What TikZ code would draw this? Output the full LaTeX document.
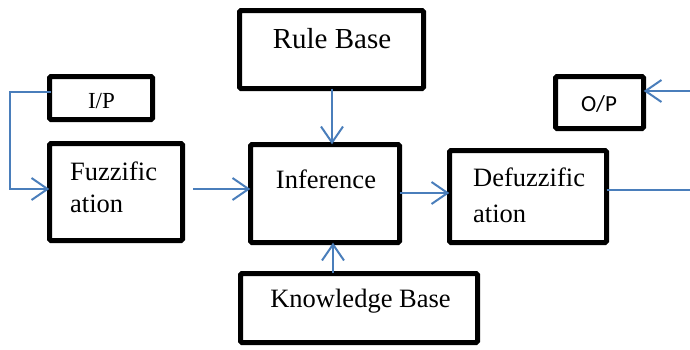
\documentclass[tikz,border=0pt]{standalone}
\usepackage{fontspec}
\setmainfont{Liberation Serif}
\newfontfamily\calib{Carlito}
\usetikzlibrary{arrows.meta}
\definecolor{lineblue}{RGB}{74,126,187}
\tikzset{
  blk/.style={draw=black, line width=5pt, rounded corners=1.5pt},
  arr/.style={draw=lineblue, line width=2pt, -{Straight Barb[length=16pt,width=22pt,line width=2pt]}},
  ln/.style={draw=lineblue, line width=2pt},
  txt/.style={inner sep=0pt, font=\fontsize{26.5}{32}\selectfont},
}
\begin{document}
\begin{tikzpicture}[x=1pt,y=-1pt]
\useasboundingbox (0,0) rectangle (690,349);
% boxes
\draw[blk] (239.5,10.5) rectangle (423.5,88.5);
\node[inner sep=0pt, minimum width=184pt, minimum height=78pt] (rule) at (331.5,49.5) {};
\draw[blk] (49.5,76.5) rectangle (152.5,119.5);
\node[inner sep=0pt, minimum width=103pt, minimum height=43pt] (ip) at (101,98) {};
\draw[blk] (49.5,143.5) rectangle (182.5,240.5);
\node[inner sep=0pt, minimum width=133pt, minimum height=97pt] (fuzz) at (116,192) {};
\draw[blk] (250.5,144.5) rectangle (399.5,242.5);
\node[inner sep=0pt, minimum width=149pt, minimum height=98pt] (inf) at (325,193.5) {};
\draw[blk] (449.5,150.5) rectangle (606.5,242.5);
\node[inner sep=0pt, minimum width=157pt, minimum height=92pt] (defuzz) at (528,196.5) {};
\draw[blk] (555.5,76.5) rectangle (643.5,128.5);
\node[inner sep=0pt, minimum width=88pt, minimum height=52pt] (op) at (599.5,102.5) {};
\draw[blk] (240.5,273.5) rectangle (477.5,342.5);
\node[inner sep=0pt, minimum width=237pt, minimum height=69pt] (kb) at (359,308) {};
% texts
\node[txt, anchor=base, font=\fontsize{29}{34}\selectfont] (ruletxt) at (332,48) {Rule Base};
\node[txt, anchor=base, font=\fontsize{23}{28}\selectfont] (iptxt) at (101.5,108) {I/P};
\node[txt, anchor=base west] (fuzztxta) at (70,180) {Fuzzific};
\node[txt, anchor=base west] (fuzztxtb) at (70,212) {ation};
\node[txt, anchor=base] (inftxt) at (326,188) {Inference};
\node[txt, anchor=base west] (deftxta) at (473,186) {Defuzzific};
\node[txt, anchor=base west] (deftxtb) at (473,222) {ation};
\node[txt, anchor=base] (kbtxt) at (360.5,307) {Knowledge Base};
\node[txt, anchor=base, font=\calib\fontsize{23}{28}\selectfont] (optxt) at (599,111) {O/P};
% connectors
\coordinate (ipout) at (51,92);
\coordinate (leftbend) at (10,92);
\draw[arr] (ipout) -- (leftbend) |- (fuzz.west |- 0,189);
\coordinate (fzout) at (193,189);
\draw[arr] (fzout) -- (inf.west |- fzout);
\draw[arr] (inf.east |- 0,193) -- (defuzz.west |- 0,193);
\coordinate (rightend) at (690,190);
\draw[ln] (defuzz.east |- rightend) -- (rightend);
\coordinate (rightin) at (690,91);
\draw[arr] (rightin) -- (op.east |- rightin);
\draw[arr] (rule.south -| 332,0) -- (inf.north -| 332,0);
\draw[arr] (kb.north -| 333,0) -- (inf.south -| 333,0);
\end{tikzpicture}
\end{document}
